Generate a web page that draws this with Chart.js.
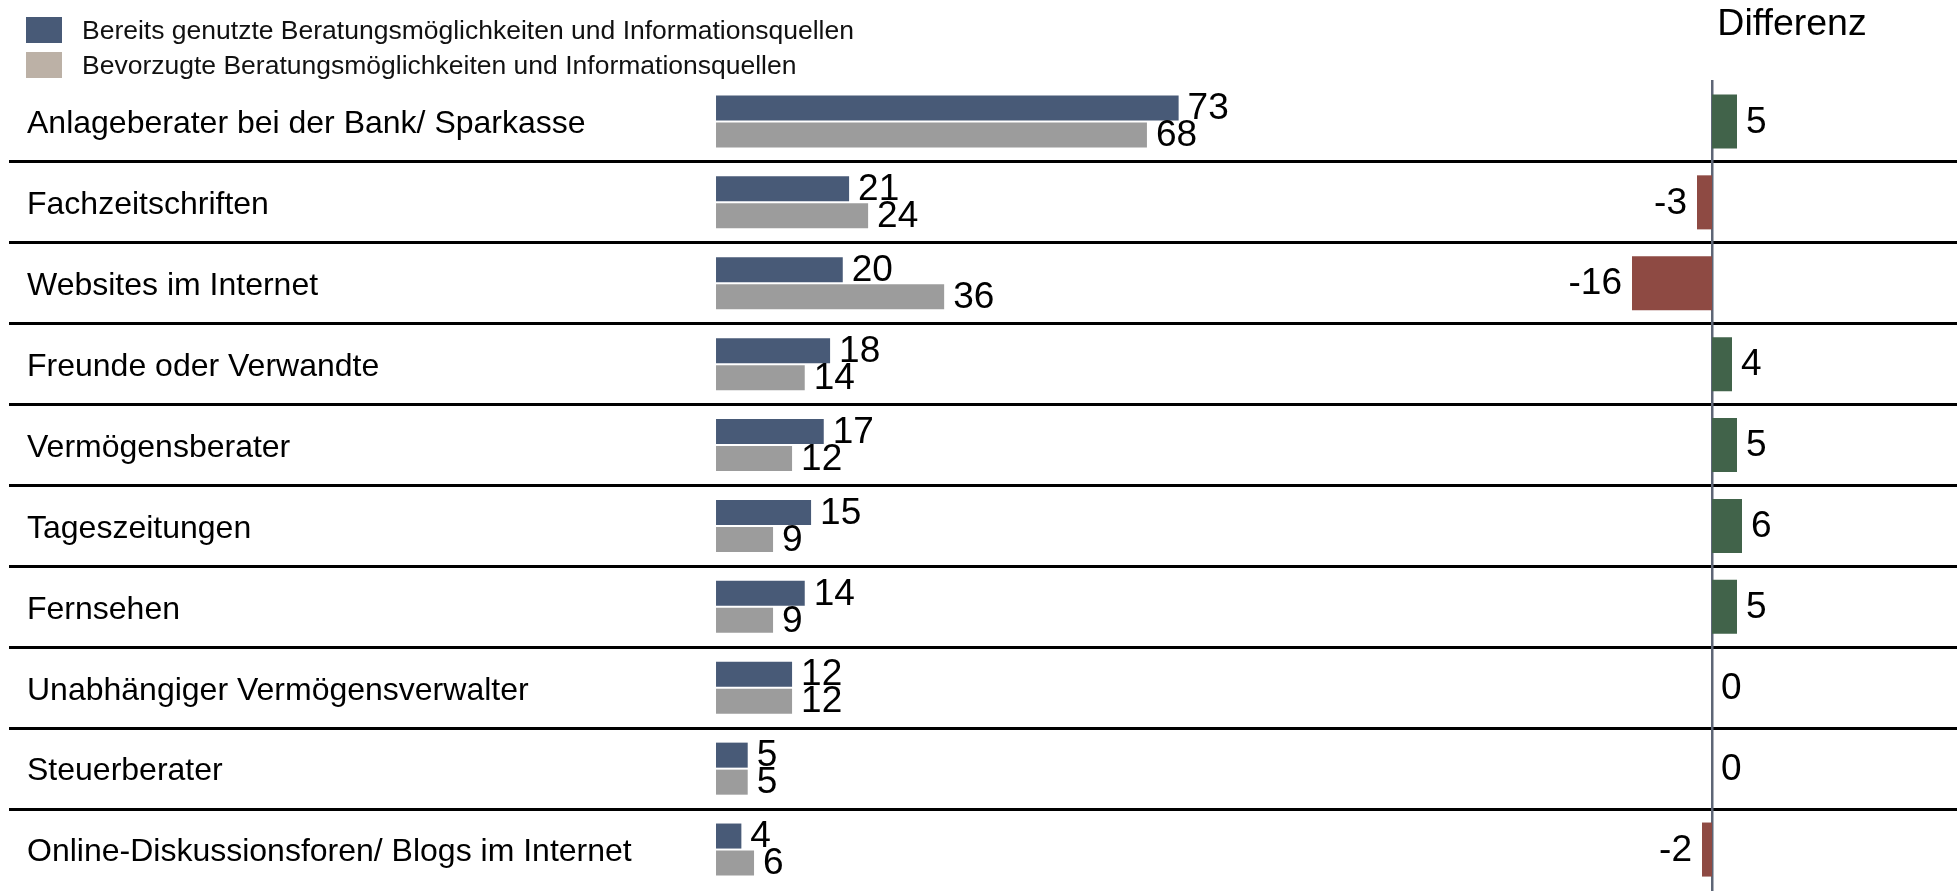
<!DOCTYPE html>
<html lang="de">
<head>
<meta charset="utf-8">
<title>Beratungsmöglichkeiten und Informationsquellen</title>
<script src="https://cdn.jsdelivr.net/npm/chart.js@4.4.1/dist/chart.umd.min.js"></script>
<style>
  html, body { margin: 0; padding: 0; background: #fff; }
  #wrap { position: relative; width: 1957px; height: 896px; font-family: "Liberation Sans", Arial, sans-serif; color: #111; }
  #chart { position: absolute; left: 0; top: 0; }
  .legend-item { position: absolute; left: 26px; height: 26px; display: flex; align-items: center; font-size: 26.5px; white-space: nowrap; }
  .legend-item i { display: inline-block; width: 36px; height: 26px; margin-right: 20px; }
  #diffTitle { position: absolute; left: 1792px; top: 22px; transform: translate(-50%, -50%); font-size: 37.5px; color: #000; }
</style>
</head>
<body>
<div id="wrap">
  <canvas id="chart" width="1957" height="896"></canvas>
  <div id="legend"></div>
  <div id="diffTitle">Differenz</div>
</div>
<script>
const labels = [
  'Anlageberater bei der Bank/ Sparkasse',
  'Fachzeitschriften',
  'Websites im Internet',
  'Freunde oder Verwandte',
  'Vermögensberater',
  'Tageszeitungen',
  'Fernsehen',
  'Unabhängiger Vermögensverwalter',
  'Steuerberater',
  'Online-Diskussionsforen/ Blogs im Internet'
]
const genutzt = [73, 21, 20, 18, 17, 15, 14, 12, 5, 4]
const bevorzugt = [68, 24, 36, 14, 12, 9, 9, 12, 5, 6]
const differenz = [5, -3, -16, 4, 5, 6, 5, 0, 0, -2]

const legendTexts = [
  'Bereits genutzte Beratungsmöglichkeiten und Informationsquellen',
  'Bevorzugte Beratungsmöglichkeiten und Informationsquellen'
]
const legendColors = ['#485a77', '#bcb1a6']
const FONT = '"Liberation Sans", Arial, sans-serif'

// legend is stacked vertically, chart.js only lays it out in rows
const legend = document.getElementById('legend')
legendTexts.forEach((t, i) => {
  const div = document.createElement('div')
  div.className = 'legend-item'
  div.style.top = (17 + i * 35) + 'px'
  div.innerHTML = '<i style="background:' + legendColors[i] + '"></i>' + t
  legend.appendChild(div)
})

// numbers next to each bar
const valueLabels = {
  id: 'valueLabels',
  afterDatasetsDraw(chart) {
    const ctx = chart.ctx
    ctx.save()
    ctx.font = '37px ' + FONT
    ctx.fillStyle = '#000'
    ctx.textBaseline = 'middle'
    chart.data.datasets.forEach((ds, i) => {
      chart.getDatasetMeta(i).data.forEach((bar, j) => {
        const v = ds.data[j]
        if (v < 0) {
          ctx.textAlign = 'right'
          ctx.fillText(v, bar.x - 10, bar.y + 1)
        } else {
          ctx.textAlign = 'left'
          ctx.fillText(v, bar.x + 9, bar.y + 1)
        }
      })
    })
    ctx.restore()
  }
}

new Chart(document.getElementById('chart'), {
  type: 'bar',
  data: {
    labels: labels,
    datasets: [
      {
        label: legendTexts[0],
        data: genutzt,
        backgroundColor: '#485a77',
        xAxisID: 'x',
        yAxisID: 'y',
        stack: 'a',
        categoryPercentage: 0.668,
        barPercentage: 0.926
      },
      {
        label: legendTexts[1],
        data: bevorzugt,
        backgroundColor: '#9c9c9c',
        xAxisID: 'x',
        yAxisID: 'y',
        stack: 'b',
        categoryPercentage: 0.668,
        barPercentage: 0.926
      },
      {
        label: 'Differenz',
        data: differenz,
        backgroundColor: (c) => c.raw < 0 ? '#8e4a43' : '#41634a',
        xAxisID: 'x2',
        yAxisID: 'y',
        grouped: false, // one bar per row, centred on the row
        categoryPercentage: 0.668,
        barPercentage: 1
      }
    ]
  },
  options: {
    indexAxis: 'y',
    responsive: false,
    animation: false,
    layout: { padding: { top: 81, left: 9, right: 0, bottom: 6 } },
    plugins: {
      legend: { display: false },
      tooltip: { enabled: false }
    },
    scales: {
      x: { display: false, stacked: false, min: -111.57, max: 195.83 },
      x2: { axis: 'x', type: 'linear', display: false, stacked: false, min: -340.6, max: 49 },
      y: {
        type: 'category',
        position: 'left',
        offset: true,
        grid: {
          offset: true,
          drawTicks: false,
          lineWidth: 3,
          // only the lines between rows
          color: (c) => (c.index > 0 && c.index < labels.length) ? '#000' : 'rgba(0,0,0,0)'
        },
        border: { display: false },
        ticks: { mirror: true, padding: 18, labelOffset: 3, color: '#000', font: { size: 32, family: FONT } },
        afterFit(scale) {
          scale.width = 0
          scale.paddingTop = 0
          scale.paddingBottom = 0
        }
      },
      // only there to draw the zero line of the Differenz bars
      y2: {
        axis: 'y',
        type: 'category',
        position: { x2: 0 },
        offset: true,
        grid: { display: false, drawTicks: false },
        ticks: { display: false },
        border: { display: true, color: '#5e6676', width: 2.5 }
      }
    }
  },
  plugins: [valueLabels]
})
</script>
</body>
</html>
